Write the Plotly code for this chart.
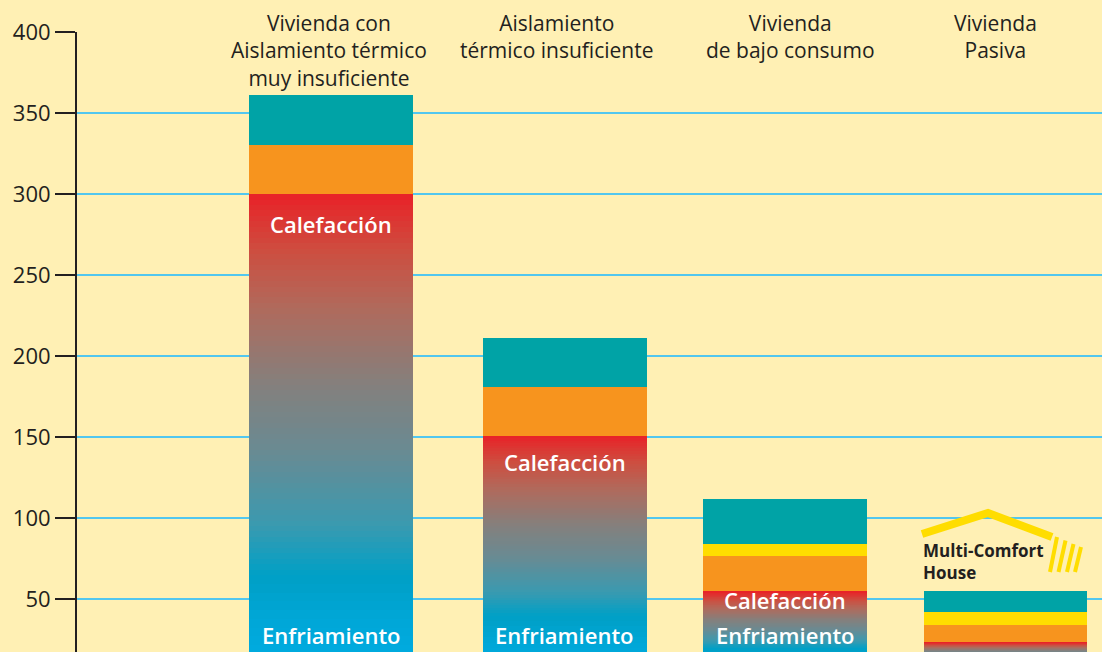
import plotly.graph_objects as go

# ---------------- data ----------------
categories = ["c1", "c2", "c3", "c4"]
category_labels = [
    "Vivienda con<br>Aislamiento térmico<br>muy insuficiente",
    "Aislamiento<br>térmico insuficiente",
    "Vivienda<br>de bajo consumo",
    "Vivienda<br>Pasiva",
]
cooling = [65, 40, 20, 14]        # Enfriamiento (bottom, blue)
heating = [235, 111, 35, 9.5]     # Calefacción (red -> blue gradient)
orange = [30, 30, 22, 10.5]
yellow = [0, 0, 7, 8]
teal = [31, 30, 28, 13]
y_ticks = [50, 100, 150, 200, 250, 300, 350, 400]
heat_label_shift = [-30, -26, -9, None]   # pixel offset of "Calefacción" label below heating top
title_shift = [-16, -8, 5, -10]           # pixel offset of the category titles

# ---------------- style ----------------
BG = "#FFF0B4"
TEXT = "#231F20"
GRID = "#52C7EF"
TEAL = "#00A3A6"
ORANGE = "#F7941E"
YELLOW = "#FFDD00"
FONT = "Open Sans"
W, H = 1102, 652
ML, MR, MT, MB = 77, 0, 32, 0
BAR_W = 0.744
offsets = [-BAR_W / 2 - 0.06, -BAR_W / 2, -BAR_W / 2, -BAR_W / 2]


def hex2rgb(h):
    h = h.lstrip("#")
    return tuple(int(h[i:i + 2], 16) for i in (0, 2, 4))


def interp(stops, t):
    for (t0, c0), (t1, c1) in zip(stops, stops[1:]):
        if t <= t1:
            f = 0 if t1 == t0 else (t - t0) / (t1 - t0)
            a, b = hex2rgb(c0), hex2rgb(c1)
            return "rgb(%d,%d,%d)" % tuple(round(a[k] + (b[k] - a[k]) * f) for k in range(3))
    return stops[-1][1]


# gradient stops from bottom (0) to top (1)
heat_stops = [(0.0, "#00A0C6"), (0.13, "#3A9AB0"), (0.33, "#6A8A92"),
              (0.5, "#84807D"), (0.7, "#B06A5C"), (0.85, "#CD4E40"), (1.0, "#E92127")]
cool_stops = [(0.0, "#00AEE6"), (0.6, "#00A6D6"), (1.0, "#009FC5")]

fig = go.Figure()


def add_gradient(values, stops, n):
    for k in range(n):
        t = (k + 0.5) / n
        fig.add_trace(go.Bar(
            x=categories, y=[v / n for v in values], width=BAR_W, offset=offsets,
            marker=dict(color=interp(stops, t), line=dict(width=0)),
            hoverinfo="skip", showlegend=False))


add_gradient(cooling, cool_stops, 12)
add_gradient(heating, heat_stops, 70)
for vals, col in [(orange, ORANGE), (yellow, YELLOW), (teal, TEAL)]:
    fig.add_trace(go.Bar(x=categories, y=vals, width=BAR_W, offset=offsets,
                         marker=dict(color=col, line=dict(width=0)),
                         hoverinfo="skip", showlegend=False))


def py(pix_y):
    return (H - MB - pix_y) / (H - MT - MB)


def px(pix_x):
    return (pix_x - ML) / (W - ML - MR)


annotations = []
# category titles above the plot
for i, lab in enumerate(category_labels):
    annotations.append(dict(
        x=categories[i], xref="x", xshift=title_shift[i],
        y=py(7), yref="paper", yanchor="top", xanchor="center",
        text=lab, showarrow=False, align="center",
        font=dict(family=FONT, size=21, color=TEXT)))

# in-bar labels
for i in range(3):
    top = cooling[i] + heating[i]
    annotations.append(dict(
        x=categories[i], xref="x", xshift=-0.06 * 220 if i == 0 else 0,
        y=top, yref="y", yanchor="middle", yshift=heat_label_shift[i],
        text="Calefacción", showarrow=False,
        font=dict(family=FONT, size=22, color="white", weight=600)))
    annotations.append(dict(
        x=categories[i], xref="x", xshift=-0.06 * 220 if i == 0 else 0,
        y=py(635), yref="paper", yanchor="middle",
        text="Enfriamiento", showarrow=False,
        font=dict(family=FONT, size=22, color="white", weight=600)))

# Multi-Comfort House logo
annotations.append(dict(
    x=px(921), xref="paper", xanchor="left", y=py(537), yref="paper", yanchor="top",
    text="<b>Multi-Comfort<br>House</b>", showarrow=False, align="left",
    font=dict(family=FONT, size=17, color=TEXT)))

shapes = [dict(
    type="path", xref="paper", yref="paper",
    path="M %f,%f L %f,%f L %f,%f" % (px(922), py(534), px(988), py(513), px(1052), py(537)),
    line=dict(color=YELLOW, width=8))]
for tx, ty, bx in [(1057, 537, 1050), (1065.5, 540.5, 1058.5), (1073.5, 544, 1067), (1081, 547, 1075)]:
    shapes.append(dict(type="line", xref="paper", yref="paper",
                       x0=px(tx), y0=py(ty), x1=px(bx), y1=py(572),
                       line=dict(color=YELLOW, width=4)))

fig.update_layout(
    width=W, height=H,
    margin=dict(l=ML, r=MR, t=MT, b=MB, pad=0),
    barmode="stack",
    paper_bgcolor=BG, plot_bgcolor=BG,
    showlegend=False,
    annotations=annotations,
    shapes=shapes,
    xaxis=dict(type="category", categoryorder="array", categoryarray=categories,
               range=[-1.215, 3.438], showticklabels=False, showgrid=False,
               zeroline=False, showline=False, ticks=""),
    yaxis=dict(range=[17.5, 400], tickvals=y_ticks, ticks="outside", ticklen=20,
               tickwidth=2, tickcolor=TEXT, showline=True, linecolor=TEXT, linewidth=2,
               showgrid=True, gridcolor=GRID, gridwidth=1.5, zeroline=False,
               tickfont=dict(family=FONT, size=22, color=TEXT)),
)

fig.write_html("out.html", config={"displayModeBar": False},
               post_script="document.body.style.margin='0';document.body.style.background='%s';" % BG)
